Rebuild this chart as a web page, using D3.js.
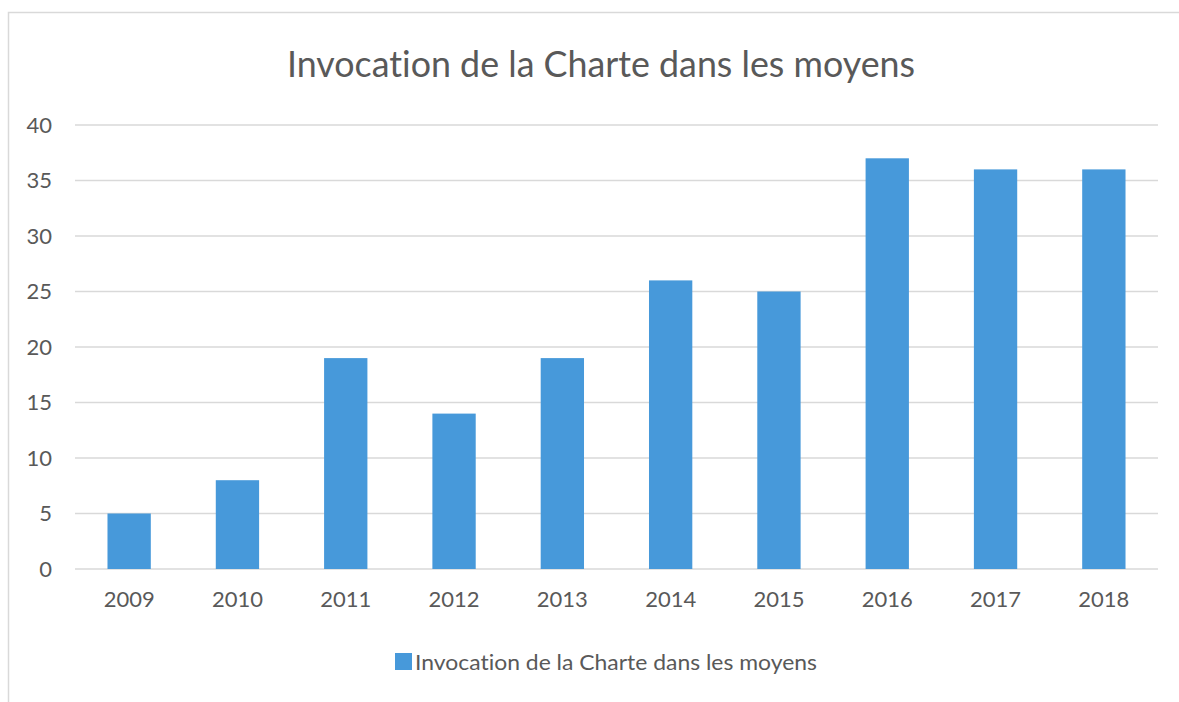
<!DOCTYPE html>
<html>
<head>
<meta charset="utf-8">
<script src="https://cdn.jsdelivr.net/npm/d3@7"></script>
<style>
  body { margin: 0; background: #fff; }
  text { font-family: Lato, "Open Sans", sans-serif; fill: #595959; font-variant-ligatures: none; }
</style>
</head>
<body>
<svg id="chart" width="1179" height="702"></svg>
<script>
// data
var years = ["2009", "2010", "2011", "2012", "2013", "2014", "2015", "2016", "2017", "2018"];
var counts = [5, 8, 19, 14, 19, 26, 25, 37, 36, 36];
var yTicks = [0, 5, 10, 15, 20, 25, 30, 35, 40];
var title = "Invocation de la Charte dans les moyens";
var seriesName = "Invocation de la Charte dans les moyens";

var svg = d3.select("#chart");
var barColor = "#4799da";

// outer chart frame (cut off on right and bottom)
svg.append("rect")
  .attr("x", 8.5).attr("y", 12.5)
  .attr("width", 1200).attr("height", 720)
  .attr("fill", "none")
  .attr("stroke", "#d9d9d9")
  .attr("stroke-width", 1.5);

var x = d3.scaleBand().domain(years).range([75, 1158]).paddingInner(0.6).paddingOuter(0.3);
var y = d3.scaleLinear().domain([0, 40]).range([569, 125]);

// gridlines
svg.append("g").selectAll("line")
  .data(yTicks)
  .enter().append("line")
  .attr("x1", 75).attr("x2", 1158)
  .attr("y1", function (d) { return y(d); })
  .attr("y2", function (d) { return y(d); })
  .attr("stroke", "#d9d9d9")
  .attr("stroke-width", 1.5);

// y labels
var yAxis = svg.append("g")
  .attr("transform", "translate(52,0)")
  .call(d3.axisLeft(y).tickValues(yTicks).tickSize(0).tickPadding(0));
yAxis.select(".domain").remove();
yAxis.selectAll("text")
  .attr("fill", "#595959")
  .style("font-size", "22px")
  .style("font-family", "Lato, 'Open Sans', sans-serif");

// bars
svg.append("g").selectAll("rect")
  .data(counts)
  .enter().append("rect")
  .attr("x", function (d, i) { return x(years[i]); })
  .attr("y", function (d) { return y(d); })
  .attr("width", x.bandwidth())
  .attr("height", function (d) { return y(0) - y(d); })
  .attr("fill", barColor);

// x labels
var xAxis = svg.append("g")
  .attr("transform", "translate(0,569)")
  .call(d3.axisBottom(x).tickSize(0).tickPadding(22));
xAxis.select(".domain").remove();
xAxis.selectAll("text")
  .attr("fill", "#595959")
  .style("font-size", "22px")
  .style("font-family", "Lato, 'Open Sans', sans-serif");

// title
svg.append("text")
  .attr("x", 601).attr("y", 77)
  .attr("text-anchor", "middle")
  .attr("textLength", 628)
  .attr("lengthAdjust", "spacingAndGlyphs")
  .style("font-size", "36px")
  .text(title);

// legend
svg.append("rect")
  .attr("x", 395).attr("y", 653)
  .attr("width", 17).attr("height", 17)
  .attr("fill", barColor);
svg.append("text")
  .attr("x", 415).attr("y", 670)
  .attr("textLength", 402)
  .attr("lengthAdjust", "spacingAndGlyphs")
  .style("font-size", "22px")
  .text(seriesName);
</script>
</body>
</html>
